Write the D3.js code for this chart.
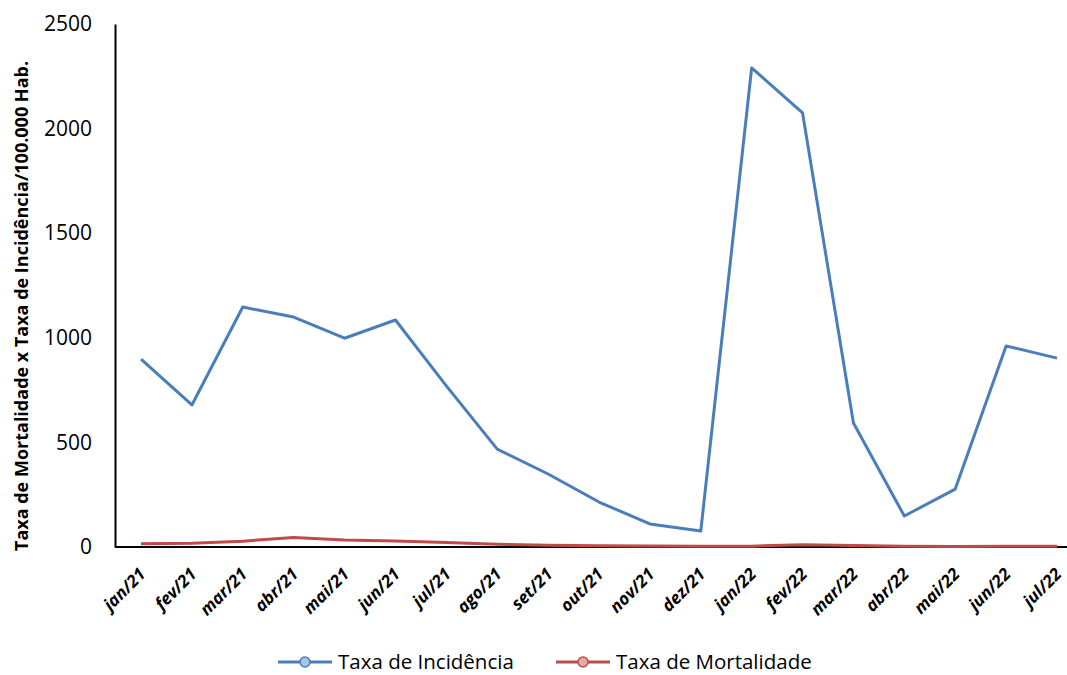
<!DOCTYPE html>
<html>
<head>
<meta charset="utf-8">
<script src="https://cdn.jsdelivr.net/npm/d3@7"></script>
<style>
  body { margin: 0; background: #fff; }
  svg { display: block; font-family: "Open Sans", Lato, sans-serif; }
</style>
</head>
<body>
<svg id="chart" width="1067" height="675"></svg>
<script>
// Monthly rates per 100,000 inhabitants
const months = ["jan/21","fev/21","mar/21","abr/21","mai/21","jun/21","jul/21","ago/21","set/21","out/21","nov/21","dez/21","jan/22","fev/22","mar/22","abr/22","mai/22","jun/22","jul/22"];
const incidencia = [898, 679, 1147, 1099, 998, 1085, 770, 468, 349, 215, 110, 76, 2290, 2075, 593, 148, 277, 961, 903];
const mortalidade = [15, 18, 28, 45, 33, 29, 22, 13, 8, 6, 5, 3, 4, 11, 7, 3, 2, 3, 4];
const yTicks = [0, 500, 1000, 1500, 2000, 2500];
const seriesNames = ["Taxa de Incidência", "Taxa de Mortalidade"];
const seriesColors = ["#4a7ebb", "#be4b48"];

const svg = d3.select("#chart");
const plot = { left: 115, right: 1067, top: 24, bottom: 547 };

const x = d3.scalePoint().domain(months).range([141, 1057]);
const y = d3.scaleLinear().domain([0, 2500]).range([plot.bottom, plot.top]);

// Y axis
const yAxis = svg.append("g").attr("transform", `translate(${plot.left},0)`)
  .call(d3.axisLeft(y).tickValues(yTicks).tickFormat(d3.format("d")).tickSize(0).tickPadding(23));
yAxis.select(".domain").attr("stroke", "#000").attr("stroke-width", 2);
yAxis.selectAll("text").attr("font-size", 21).attr("fill", "#000")
  .attr("font-family", "'Open Sans', sans-serif");

// X axis
const xAxis = svg.append("g").attr("transform", `translate(0,${plot.bottom})`)
  .call(d3.axisBottom(x).tickSize(0).tickPadding(0));
xAxis.select(".domain").attr("d", `M${plot.left},0H${plot.right}`).attr("stroke", "#000").attr("stroke-width", 2);
xAxis.selectAll("text")
  .attr("font-size", 17).attr("font-weight", "bold").attr("font-style", "italic").attr("fill", "#000")
  .attr("font-family", "'Open Sans', sans-serif")
  .attr("text-anchor", "end").attr("dy", "0.35em").attr("y", 0)
  .attr("transform", "translate(1,24) rotate(-45)");

// Y axis title
svg.append("text")
  .attr("transform", `translate(28,306) rotate(-90)`)
  .attr("text-anchor", "middle").attr("font-size", 18).attr("font-weight", "bold")
  .text("Taxa de Mortalidade x Taxa de Incidência/100.000 Hab.");

const line = d3.line().x((d, i) => x(months[i])).y(d => y(d));
[incidencia, mortalidade].forEach((vals, k) => {
  svg.append("path").datum(vals).attr("d", line)
    .attr("fill", "none").attr("stroke", seriesColors[k]).attr("stroke-width", 3)
    .attr("stroke-linejoin", "round");
});

// Legend
const legendX = [278, 556];
const lg = svg.append("g");
seriesNames.forEach((name, k) => {
  const g = lg.append("g").attr("transform", `translate(${legendX[k]},662)`);
  g.append("line").attr("x1", 0).attr("x2", 54).attr("y1", 0).attr("y2", 0)
    .attr("stroke", seriesColors[k]).attr("stroke-width", 3);
  g.append("circle").attr("cx", 27).attr("cy", 0).attr("r", 5)
    .attr("fill", k === 0 ? "#a9c3e6" : "#e8a9a7").attr("stroke", seriesColors[k]).attr("stroke-width", 1.5);
  g.append("text").attr("x", 60).attr("y", 7).attr("font-size", 20.5).attr("fill", "#000").text(name);
});
</script>
</body>
</html>
